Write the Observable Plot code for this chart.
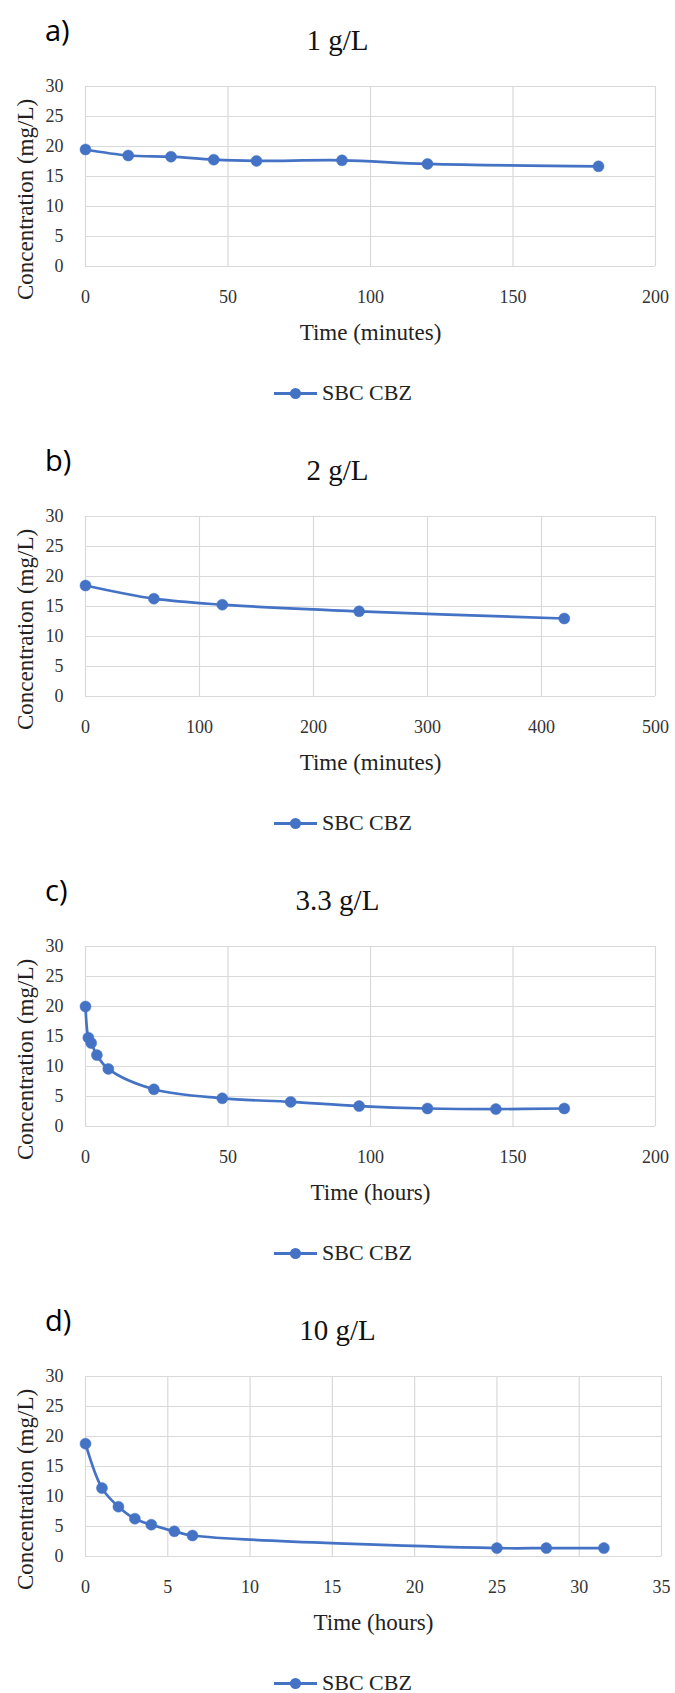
<!DOCTYPE html>
<html>
<head>
<meta charset="utf-8">
<script src="https://cdn.jsdelivr.net/npm/d3@7"></script>
<script src="https://cdn.jsdelivr.net/npm/@observablehq/plot@0.6"></script>
<style>
  body { margin: 0; background: #fff; width: 675px; }
  .panel { position: relative; width: 675px; height: 430px; }
  .head { position: relative; height: 62px; }
  .tag { position: absolute; left: 45px; top: 10px; font-family: "Open Sans", sans-serif; font-size: 29px; line-height: normal; color: #000; }
  .title { position: absolute; left: 0; width: 675px; top: 24px; text-align: center; font-family: "Liberation Serif", serif; font-size: 29px; line-height: normal; color: #111; }
  .plot svg { display: block; }
  .legend { position: relative; height: 84px; }
  .legend .ln { position: absolute; left: 274px; top: 46px; width: 43px; height: 2.5px; background: #4472C4; }
  .legend .dt { position: absolute; left: 290px; top: 42px; width: 11px; height: 11px; border-radius: 50%; background: #4472C4; }
  .legend .tx { position: absolute; left: 322px; top: 34px; font-family: "Liberation Serif", serif; font-size: 22px; line-height: normal; color: #222; }
</style>
</head>
<body>
<div id="root"></div>
<script>
// ---- data ----
const panelTags = ["a)", "b)", "c)", "d)"];
const panelTitles = ["1 g/L", "2 g/L", "3.3 g/L", "10 g/L"];
const xLabels = ["Time (minutes)", "Time (minutes)", "Time (hours)", "Time (hours)"];
const yLabel = "Concentration (mg/L)";
const seriesName = "SBC CBZ";

const yTicks = [0, 5, 10, 15, 20, 25, 30];

const xTicksA = [0, 50, 100, 150, 200];
const xTicksB = [0, 100, 200, 300, 400, 500];
const xTicksC = [0, 50, 100, 150, 200];
const xTicksD = [0, 5, 10, 15, 20, 25, 30, 35];

const timeA = [0, 15, 30, 45, 60, 90, 120, 180];
const concA = [19.5, 18.5, 18.3, 17.8, 17.6, 17.7, 17.1, 16.7];

const timeB = [0, 60, 120, 240, 420];
const concB = [18.5, 16.3, 15.3, 14.2, 13.0];

const timeC = [0, 1, 2, 4, 8, 24, 48, 72, 96, 120, 144, 168];
const concC = [20.0, 14.8, 13.9, 11.9, 9.6, 6.2, 4.7, 4.1, 3.4, 3.0, 2.9, 3.0];

const timeD = [0, 1, 2, 3, 4, 5.4, 6.5, 25, 28, 31.5];
const concD = [18.8, 11.4, 8.3, 6.3, 5.3, 4.2, 3.5, 1.4, 1.4, 1.4];

const panels = [
  {xs: timeA, ys: concA, ticks: xTicksA, mr: 20},
  {xs: timeB, ys: concB, ticks: xTicksB, mr: 20},
  {xs: timeC, ys: concC, ticks: xTicksC, mr: 20},
  {xs: timeD, ys: concD, ticks: xTicksD, mr: 14}
];

const blue = "#4472C4";
const gridColor = "#d9d9d9";

const root = document.getElementById("root");

panels.forEach((p, i) => {
  const data = p.xs.map((x, k) => ({x, y: p.ys[k]}));
  const panel = document.createElement("div");
  panel.className = "panel";

  const head = document.createElement("div");
  head.className = "head";
  const tag = document.createElement("div");
  tag.className = "tag";
  tag.textContent = panelTags[i];
  const title = document.createElement("div");
  title.className = "title";
  title.textContent = panelTitles[i];
  head.appendChild(tag);
  head.appendChild(title);
  panel.appendChild(head);

  const chart = Plot.plot({
    width: 675,
    height: 284,
    marginLeft: 85,
    marginRight: p.mr,
    marginTop: 24,
    marginBottom: 80,
    x: {domain: [p.ticks[0], p.ticks[p.ticks.length - 1]], label: null},
    y: {domain: [0, 30], label: null},
    style: {fontFamily: "'Liberation Serif', serif", background: "#fff", color: "#333"},
    marks: [
      Plot.gridX(p.ticks, {stroke: gridColor, strokeOpacity: 1, strokeWidth: 1.2}),
      Plot.gridY(yTicks, {stroke: gridColor, strokeOpacity: 1, strokeWidth: 1.2}),
      Plot.axisX(p.ticks, {tickSize: 0, tickPadding: 24, fontSize: 18, label: null, tickFormat: d => String(d)}),
      Plot.axisY(yTicks, {tickSize: 0, tickPadding: 22, fontSize: 18, label: null, tickFormat: d => String(d)}),
      Plot.text([xLabels[i]], {frameAnchor: "bottom", textAnchor: "middle", lineAnchor: "middle", dy: 66, fontSize: 23, fill: "#222", text: d => d}),
      Plot.text([yLabel], {frameAnchor: "left", textAnchor: "middle", lineAnchor: "middle", dx: -60, dy: 23, rotate: -90, fontSize: 23, fill: "#222", text: d => d}),
      Plot.line(data, {x: "x", y: "y", curve: "catmull-rom", stroke: blue, strokeWidth: 2.7}),
      Plot.dot(data, {x: "x", y: "y", r: 5.5, fill: blue, stroke: blue, strokeWidth: 0.5})
    ]
  });
  const plotDiv = document.createElement("div");
  plotDiv.className = "plot";
  plotDiv.appendChild(chart);
  panel.appendChild(plotDiv);

  const legend = document.createElement("div");
  legend.className = "legend";
  legend.innerHTML = '<div class="ln"></div><div class="dt"></div>';
  const lt = document.createElement("div");
  lt.className = "tx";
  lt.textContent = seriesName;
  legend.appendChild(lt);
  panel.appendChild(legend);

  root.appendChild(panel);
});
</script>
</body>
</html>
